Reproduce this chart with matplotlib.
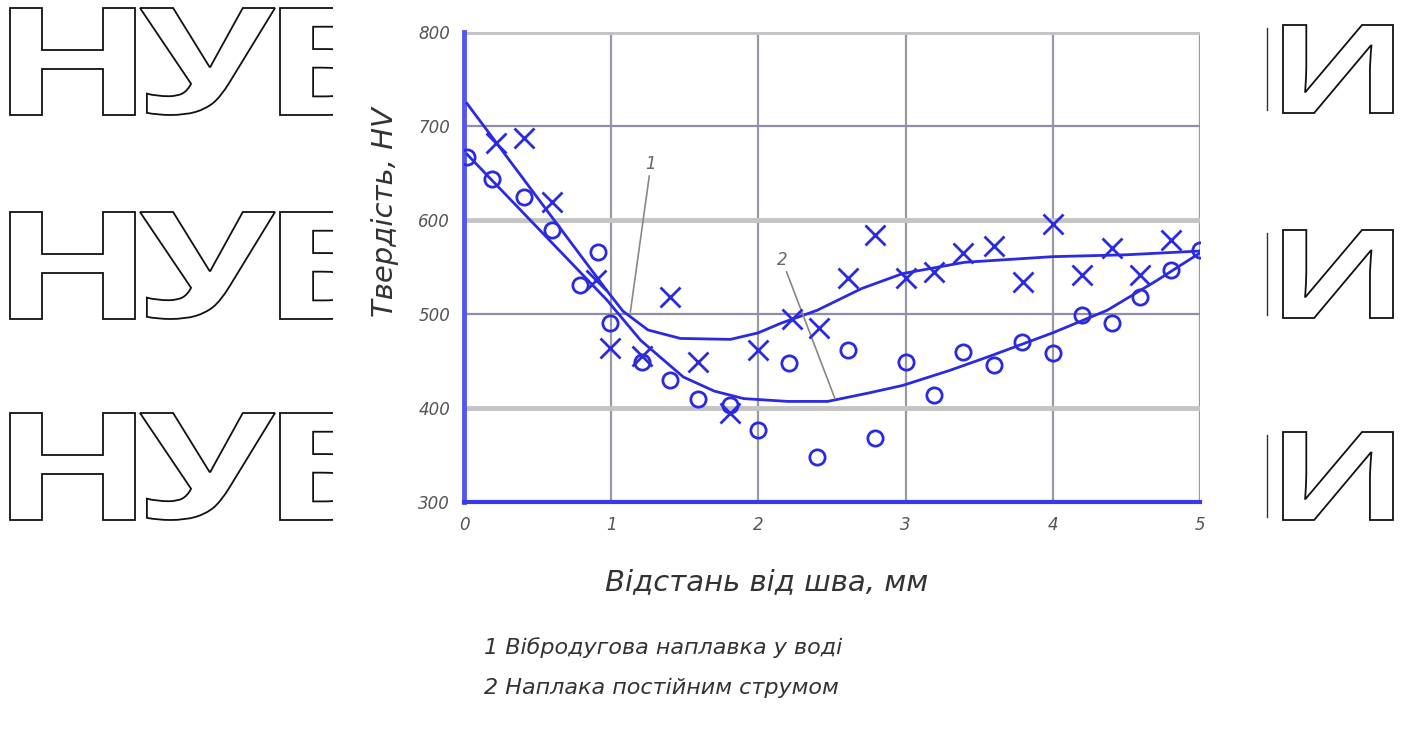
import numpy as np
import matplotlib.pyplot as plt
from matplotlib.textpath import TextPath
from matplotlib.font_manager import FontProperties
from matplotlib.patches import PathPatch
from matplotlib.transforms import Affine2D

# hardness data
x_cross = [0.22, 0.41, 0.60, 0.90, 0.99, 1.21, 1.40, 1.59, 1.81, 2.00, 2.23, 2.41, 2.61, 2.79,
           3.00, 3.19, 3.39, 3.60, 3.80, 4.00, 4.20, 4.40, 4.59, 4.80]
y_cross = [682, 687, 619, 536, 464, 455, 518, 449, 395, 462, 495, 485, 538, 584,
           538, 545, 565, 572, 534, 596, 541, 570, 541, 579]
x_circ = [0.02, 0.19, 0.41, 0.60, 0.79, 0.91, 0.99, 1.21, 1.40, 1.59, 1.81, 2.00, 2.21, 2.40,
          2.61, 2.79, 3.00, 3.19, 3.39, 3.60, 3.79, 4.00, 4.20, 4.40, 4.59, 4.80, 5.00]
y_circ = [667, 644, 625, 589, 531, 566, 490, 449, 430, 410, 403, 377, 448, 348,
          462, 368, 449, 414, 460, 446, 470, 458, 499, 490, 518, 547, 568]

# fitted curves as drawn
x_fit1 = [0.02, 0.97, 1.08, 1.25, 1.47, 1.81, 2.0, 2.15, 2.4, 2.7, 2.98, 3.4, 4.0, 4.5, 5.0]
y_fit1 = [724, 525, 503, 483, 474, 473, 480, 490, 504, 527, 543, 555, 561, 563, 567]
x_fit2 = [0.02, 0.97, 1.2, 1.49, 1.7, 1.9, 2.2, 2.47, 2.75, 2.98, 3.3, 3.57, 4.0, 4.37, 4.7, 5.0]
y_fit2 = [670, 515, 472, 433, 418, 410, 407, 407, 416, 424, 440, 455, 480, 504, 535, 565]

x_ticks = [0, 1, 2, 3, 4, 5]
y_ticks = [300, 400, 500, 600, 700, 800]

legend_lines = ['1 Вібродугова наплавка у воді', '2 Наплака постійним струмом']
wm_left = ['Н', 'У', 'Б']
wm_right = 'И'

blue = '#2a2ae0'

fig = plt.figure(figsize=(14.08, 7.36), dpi=100)
ax = fig.add_axes([464/1408, 1-502/736, 736/1408, 470/736])

ax.set_xlim(0, 5)
ax.set_ylim(300, 800)
ax.set_xticks(x_ticks)
ax.set_yticks(y_ticks)
ax.set_xticklabels([str(v) for v in x_ticks], fontstyle='italic', color='#555555', fontsize=12)
ax.set_yticklabels([str(v) for v in y_ticks], fontstyle='italic', color='#555555', fontsize=12)
ax.tick_params(length=0, pad=10)

# grid
for xv in x_ticks[1:]:
    ax.axvline(xv, color='#9a9aa6', lw=1.6, zorder=1)
for yv in y_ticks[1:]:
    if yv in (400, 600, 800):
        ax.axhline(yv, color='#c4c4c4', lw=3.5, zorder=1)
    else:
        ax.axhline(yv, color='#8e8ea8', lw=1.6, zorder=1)

for s in ['top', 'right']:
    ax.spines[s].set_visible(False)
ax.spines['left'].set_color('#5656ee')
ax.spines['left'].set_linewidth(3.5)
ax.spines['bottom'].set_color('#3a3ae8')
ax.spines['bottom'].set_linewidth(3)

ax.plot(x_fit1, y_fit1, color=blue, lw=2, zorder=3)
ax.plot(x_fit2, y_fit2, color=blue, lw=2, zorder=3)
ax.plot(x_cross, y_cross, 'x', color=blue, ms=14, mew=2, zorder=4)
ax.plot(x_circ, y_circ, 'o', color=blue, ms=11, mew=2, fillstyle='none', zorder=4)

# leader lines
ax.annotate('1', xy=(1.13, 502), xytext=(1.27, 650), color='#666666', fontsize=12,
            fontstyle='italic', ha='center', va='bottom',
            arrowprops=dict(arrowstyle='-', color='#888888', lw=1.2, shrinkA=0, shrinkB=0))
ax.annotate('2', xy=(2.52, 410), xytext=(2.16, 548), color='#666666', fontsize=12,
            fontstyle='italic', ha='center', va='bottom',
            arrowprops=dict(arrowstyle='-', color='#888888', lw=1.2, shrinkA=0, shrinkB=0))

fig.text(385/1408, 1-212/736, 'Твердість, HV', rotation=90, ha='center', va='center',
         fontsize=21, fontstyle='italic', color='#333333')
fig.text(767/1408, 1-582/736, 'Відстань від шва, мм', ha='center', va='center',
         fontsize=21, fontstyle='italic', color='#333333')
for i, t in enumerate(legend_lines):
    fig.text(484/1408, 1-(648+40*i)/736, t, ha='left', va='center',
             fontsize=16, fontstyle='italic', color='#333333')

# watermark letters, outlined and stretched like the scan
fp = FontProperties(family='Open Sans', weight='bold')
wl = fig.add_axes([0, 0, 333/1408, 1])
wl.set_xlim(0, 333)
wl.set_ylim(736, 0)
wl.axis('off')
wr = fig.add_axes([1262/1408, 0, 146/1408, 1])
wr.set_xlim(1262, 1408)
wr.set_ylim(736, 0)
wr.axis('off')


def outline(axis, ch, left, width, top, height):
    p = TextPath((0, 0), ch, size=100, prop=fp)
    e = p.get_extents()
    t = Affine2D().translate(-e.x0, -e.y0).scale(width / e.width, -height / e.height)
    t = t.translate(left, top + height)
    axis.add_patch(PathPatch(t.transform_path(p), fc='white', ec='#111111', lw=1.3))


for top_l, top_r in [(8, 25), (212, 230), (413, 432)]:
    outline(wl, wm_left[0], 10, 125, top_l, 107)
    outline(wl, wm_left[1], 140, 135, top_l, 107)
    outline(wl, wm_left[2], 280, 110, top_l, 107)
    outline(wr, wm_right, 1283, 110, top_r, 88)
    wr.plot([1267, 1267], [top_r + 3, top_r + 85], color='#333333', lw=1)

fig.savefig('out.png', dpi=100, facecolor='white')
